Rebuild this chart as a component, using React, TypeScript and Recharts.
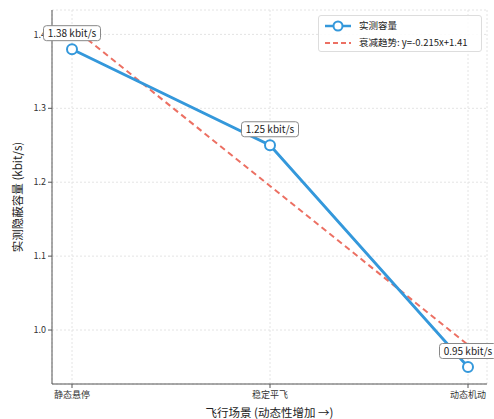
import React from "react";
import { ComposedChart, Line, XAxis, YAxis, CartesianGrid, LabelList, Label } from "recharts";

const scenarios = ["静态悬停", "稳定平飞", "动态机动"];
const measured = [1.38, 1.25, 0.95];
const trend = [1.41, 1.195, 0.98];
const yTicks = [1.0, 1.1, 1.2, 1.3, 1.4];

const data = scenarios.map((s, i) => ({ scenario: s, measured: measured[i], trend: trend[i] }));

const FONT = "'Noto Sans CJK SC', 'Noto Sans', sans-serif";
const BLUE = "#3498db";
const RED = "#e74c3c";

function ValueBox(props: any) {
  const { x, y, value } = props;
  const w = 57;
  const h = 15;
  const cy = y - 16;
  return (
    <g>
      <rect x={x - w / 2} y={cy - h / 2} width={w} height={h} rx={3} fill="#fff" stroke="#888" strokeWidth={1} />
      <text x={x} y={cy + 3.5} textAnchor="middle" fontSize={10} fill="#222" fontFamily={FONT}>
        {`${value.toFixed(2)} kbit/s`}
      </text>
    </g>
  );
}

function LegendBox() {
  return (
    <div
      style={{
        position: "absolute",
        left: 318,
        top: 15,
        width: 164,
        height: 37,
        boxSizing: "border-box",
        border: "1px solid #ddd",
        background: "rgba(255,255,255,0.85)",
        borderRadius: 3,
        padding: "1px 6px",
        fontFamily: FONT,
        fontSize: 9.5,
        color: "#222",
        lineHeight: "17px",
      }}
    >
      <div style={{ display: "flex", alignItems: "center" }}>
        <svg width={26} height={12} style={{ marginRight: 8 }}>
          <line x1={0} y1={6} x2={26} y2={6} stroke={BLUE} strokeWidth={2.5} />
          <circle cx={13} cy={6} r={4.5} fill="#fff" stroke={BLUE} strokeWidth={2} />
        </svg>
        实测容量
      </div>
      <div style={{ display: "flex", alignItems: "center" }}>
        <svg width={26} height={12} style={{ marginRight: 8 }}>
          <line x1={0} y1={6} x2={26} y2={6} stroke={RED} strokeOpacity={0.8} strokeWidth={2} strokeDasharray="5 3" />
        </svg>
        衰减趋势: y=-0.215x+1.41
      </div>
    </div>
  );
}

export default function App() {
  return (
    <div style={{ position: "absolute", left: 0, top: 0, width: 494, height: 419, background: "#fff" }}>
      <ComposedChart width={494} height={419} data={data} margin={{ top: 10, right: 7, bottom: 0, left: 0 }}>
        <CartesianGrid stroke="#e4e4e4" strokeDasharray="2 2" />
        <XAxis
          dataKey="scenario"
          padding={{ left: 20, right: 19 }}
          tick={{ fontSize: 9, fill: "#333", fontFamily: FONT }}
          tickSize={4}
          tickMargin={4}
          stroke="#555"
          height={35}
        >
          <Label value="飞行场景 (动态性增加 →)" position="insideBottom" offset={2} style={{ fontSize: 11.5, fill: "#222", fontFamily: FONT }} />
        </XAxis>
        <XAxis xAxisId="top" dataKey="scenario" orientation="top" tick={false} tickLine={false} stroke="#555" height={0} padding={{ left: 20, right: 19 }} />
        <YAxis
          domain={[0.927, 1.433]}
          ticks={yTicks}
          tickFormatter={(v: number) => v.toFixed(1)}
          tick={{ fontSize: 9, fill: "#333", fontFamily: FONT }}
          tickSize={4}
          tickMargin={2}
          stroke="#555"
          width={52}
          allowDataOverflow
        >
          <Label value="实测隐蔽容量 (kbit/s)" angle={-90} position="insideLeft" offset={18} style={{ fontSize: 11.5, fill: "#222", fontFamily: FONT, textAnchor: "middle" }} />
        </YAxis>
        <YAxis yAxisId="right" orientation="right" domain={[0.927, 1.433]} tick={false} tickLine={false} stroke="#555" width={0} />
        <Line
          dataKey="trend"
          stroke={RED}
          strokeOpacity={0.8}
          strokeWidth={2}
          strokeDasharray="6 4"
          dot={false}
          isAnimationActive={false}
        />
        <Line
          dataKey="measured"
          stroke={BLUE}
          strokeWidth={2.8}
          dot={{ r: 5, fill: "#fff", stroke: BLUE, strokeWidth: 2 }}
          isAnimationActive={false}
        >
          <LabelList dataKey="measured" content={<ValueBox />} />
        </Line>
      </ComposedChart>
      <LegendBox />
    </div>
  );
}
